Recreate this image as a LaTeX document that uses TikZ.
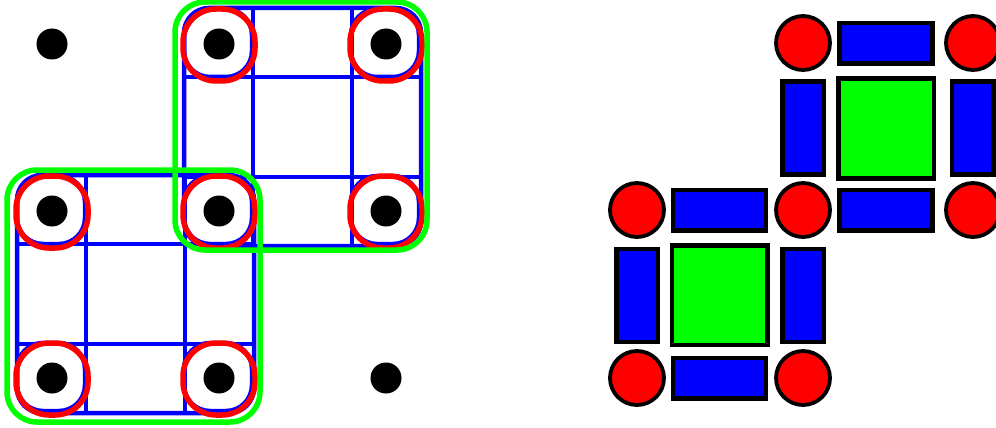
\documentclass[tikz,border=0pt]{standalone}
\begin{document}
\begin{tikzpicture}[x=1pt,y=-1pt,
  dot/.style={circle,fill=black,minimum size=31pt,inner sep=0pt},
  bluel/.style={draw=blue,line width=4.5pt},
  bluecell/.style={rectangle,draw=blue,line width=4.5pt,rounded corners=26pt,minimum size=68pt,inner sep=0pt},
  redcell/.style={rectangle,draw=red,line width=5.5pt,rounded corners=33pt,minimum size=72pt,inner sep=0pt},
  greenl/.style={draw=green,line width=5.5pt,rounded corners=30pt},
  vertexn/.style={circle,fill=red,draw=black,line width=3.8pt,minimum size=54pt,inner sep=0pt},
  hedge/.style={rectangle,fill=blue,draw=black,line width=4.5pt,minimum width=93pt,minimum height=40.5pt,inner sep=0pt},
  vedge/.style={rectangle,fill=blue,draw=black,line width=4.5pt,minimum width=41.5pt,minimum height=93pt,inner sep=0pt},
  facen/.style={rectangle,fill=green,draw=black,line width=4.5pt,minimum width=95.5pt,minimum height=99.5pt,inner sep=0pt}]
\useasboundingbox (0,0) rectangle (996,428);
% dot positions
\coordinate (p11) at (52,44);  \coordinate (p12) at (219,44);  \coordinate (p13) at (386,44);
\coordinate (p21) at (52,211); \coordinate (p22) at (219,211); \coordinate (p23) at (386,211);
\coordinate (p31) at (52,378); \coordinate (p32) at (219,378); \coordinate (p33) at (386,378);
% blue grids
\newcommand\bluegrid[4]{%
  \draw[bluel,rounded corners=25pt] (#1-35,#2-36) rectangle (#3+35,#4+35);
  \draw[bluel] (#1+34,#2-36) -- (#1+34,#4+35);
  \draw[bluel] (#3-34,#2-36) -- (#3-34,#4+35);
  \draw[bluel] (#1-35,#2+33) -- (#3+35,#2+33);
  \draw[bluel] (#1-35,#4-34) -- (#3+35,#4-34);
}
\bluegrid{219}{44}{386}{211}
\bluegrid{52}{211}{219}{378}
\foreach \p/\n in {p12/ba,p13/bb,p22/bc,p23/bd,p21/be,p31/bf,p32/bg}
  \node[bluecell] (\n) at ([shift={(-1,-1)}]\p) {};
\foreach \p/\n in {p12/ra,p13/rb,p22/rc,p23/rd,p21/re,p31/rf,p32/rg}
  \node[redcell] (\n) at ([shift={(0,1)}]\p) {};
% green outlines
\draw[greenl] (175,2) rectangle (427,250);
\draw[greenl] (7,170) rectangle (260,422);
% dots
\foreach \p/\n in {p11/d1,p12/d2,p13/d3,p21/d4,p22/d5,p23/d6,p31/d7,p32/d8,p33/d9}
  \node[dot] (\n) at (\p) {};
% right complex
\node[facen] (f1) at (886,128.5) {};
\node[facen] (f2) at (719.5,295) {};
\node[hedge] (h1) at (886,43.5) {};
\node[hedge] (h2) at (886,210) {};
\node[hedge] (h3) at (719.5,210) {};
\node[hedge] (h4) at (719.5,378) {};
\node[vedge] (e1) at (803,128) {};
\node[vedge] (e2) at (972.5,128) {};
\node[vedge] (e3) at (637,295.5) {};
\node[vedge] (e4) at (803,295.5) {};
\node[vertexn] (v1) at (803,43) {};
\node[vertexn] (v2) at (973,43) {};
\node[vertexn] (v3) at (637,210) {};
\node[vertexn] (v4) at (803,210) {};
\node[vertexn] (v5) at (973,210) {};
\node[vertexn] (v6) at (637,378) {};
\node[vertexn] (v7) at (803,378) {};
\end{tikzpicture}
\end{document}
